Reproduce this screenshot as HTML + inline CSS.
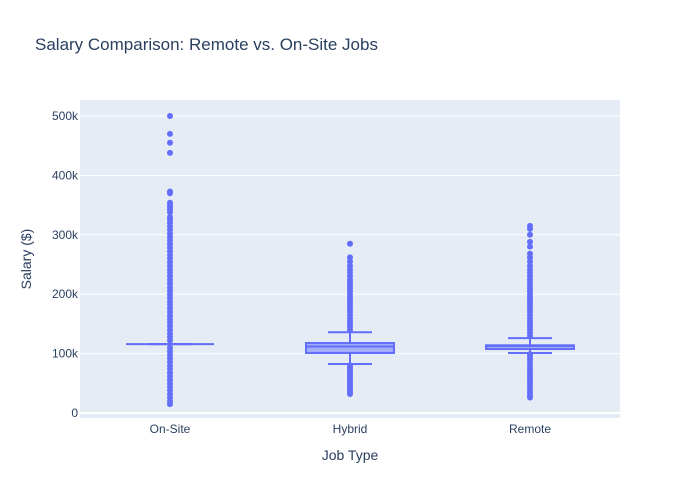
<!DOCTYPE html>
<html><head><meta charset="utf-8"><style>
body{margin:0;background:#fff;font-family:"Liberation Sans",sans-serif}
</style></head><body>
<svg id="chart" width="700" height="500" xmlns="http://www.w3.org/2000/svg" style="display:block">
<rect width="700" height="500" fill="#fff"/>
<text x="35" y="50" font-size="17" fill="#2a3f5f">Salary Comparison: Remote vs. On-Site Jobs</text>
<rect x="80" y="100" width="540" height="318" fill="#e5ecf6"/>
<g id="grid"></g><g id="marks"></g><g id="axes"></g>
<text x="350" y="460" font-size="14" fill="#2a3f5f" text-anchor="middle">Job Type</text>
<text x="31" y="259" font-size="14" fill="#2a3f5f" text-anchor="middle" transform="rotate(-90 31 259)">Salary ($)</text>
</svg>
<script>
const categories=["On-Site","Hybrid","Remote"];
const q1=[116000,101000,107700];
const median=[116000,112000,112800];
const q3=[116000,117800,114000];
const lowerFence=[116000,82500,101000];
const upperFence=[116000,136000,126000];
const outOnSite=[15000,20000,26000,32000,38000,44000,50000,56000,62000,68000,74000,80000,86000,92000,98000,104000,110000,122000,128000,134000,140000,146000,152000,158000,164000,170000,176000,182000,188000,194000,200000,206000,212000,218000,224000,230000,236000,242000,248000,254000,260000,266000,272000,278000,284000,290000,296000,302000,308000,314000,320000,326000,330000,338000,342000,346000,350000,354000,370000,373000,438000,455000,470000,500000];
const outHybrid=[32000,36000,40000,44000,48000,52000,56000,60000,64000,68000,72000,76000,80000,140000,145000,150000,155000,160000,165000,170000,175000,180000,185000,190000,195000,200000,205000,210000,215000,220000,224000,230000,236000,242000,248000,255000,262000,285000];
const outRemote=[26000,30000,35000,40000,45000,50000,55000,60000,65000,70000,75000,80000,85000,90000,95000,99000,130000,135000,140000,145000,150000,155000,160000,165000,170000,175000,180000,185000,190000,195000,200000,205000,210000,215000,220000,225000,230000,236000,242000,248000,255000,262000,268000,280000,288000,300000,310000,315000];
const outliers=[outOnSite,outHybrid,outRemote];
const yTicks=[0,100000,200000,300000,400000,500000];
const yTickLabels=["0","100k","200k","300k","400k","500k"];
const NS="http://www.w3.org/2000/svg";
const y=v=>413-v/500000*297;
const x=i=>80+540/3*(i+0.5);
function mk(t,a,p){const e=document.createElementNS(NS,t);for(const k in a)e.setAttribute(k,a[k]);p.appendChild(e);return e;}
const grid=document.getElementById('grid'),marks=document.getElementById('marks'),axes=document.getElementById('axes');
yTicks.forEach((v,i)=>{
 const g=mk('line',{x1:80,x2:620,y1:y(v),y2:y(v),stroke:'#fff','stroke-width':v===0?2:1},grid);
 
 
 const t=mk('text',{x:78,y:y(v)+4,'font-size':12,fill:'#2a3f5f','text-anchor':'end'},axes);
 t.textContent=yTickLabels[i];
 
 
});
categories.forEach((c,i)=>{
 const cx=x(i),hw=44,ww=22;
 const t=mk('text',{x:cx,y:433,'font-size':12,fill:'#2a3f5f','text-anchor':'middle'},axes);
 t.textContent=c;
 
 
 const g=mk('g',{},marks);
 
 
 outliers[i].forEach(v=>{
  const p=mk('circle',{cx:cx,cy:y(v),r:3,fill:'#636efa'},g);
  
  
 });
 const st={stroke:'#636efa','stroke-width':2,fill:'none'};
 mk('line',Object.assign({x1:cx,x2:cx,y1:y(upperFence[i]),y2:y(q3[i])},st),g);
 mk('line',Object.assign({x1:cx,x2:cx,y1:y(q1[i]),y2:y(lowerFence[i])},st),g);
 mk('line',Object.assign({x1:cx-ww,x2:cx+ww,y1:y(upperFence[i]),y2:y(upperFence[i])},st),g);
 mk('line',Object.assign({x1:cx-ww,x2:cx+ww,y1:y(lowerFence[i]),y2:y(lowerFence[i])},st),g);
 mk('rect',{x:cx-hw,y:y(q3[i]),width:hw*2,height:Math.max(0,y(q1[i])-y(q3[i])),fill:'rgba(99,110,250,0.5)',stroke:'#636efa','stroke-width':2},g);
 mk('line',Object.assign({x1:cx-hw,x2:cx+hw,y1:y(median[i]),y2:y(median[i])},st),g);
});
</script>
</body></html>
